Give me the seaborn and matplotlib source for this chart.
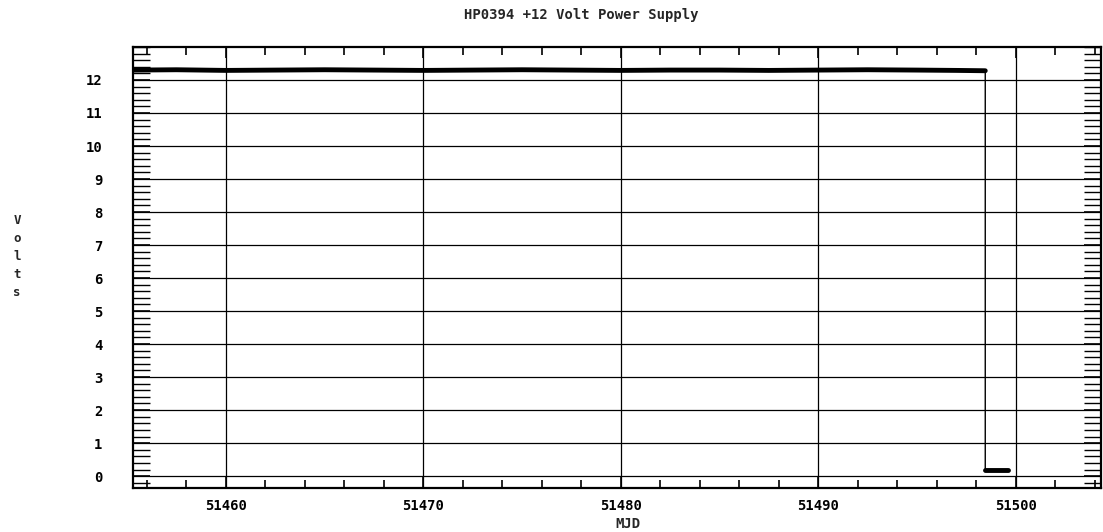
import numpy as np
import seaborn as sns
import matplotlib.pyplot as plt
from matplotlib.ticker import MultipleLocator
import pandas as pd

# readings taken off the chart
high_mjd = [51455.3, 51457.5, 51460.0, 51462.5, 51465.0, 51467.5, 51470.0, 51472.5,
            51475.0, 51477.5, 51480.0, 51482.5, 51485.0, 51487.5, 51490.0, 51492.5,
            51495.0, 51497.0, 51498.45]
high_volts = [12.30, 12.31, 12.29, 12.30, 12.31, 12.30, 12.29, 12.30,
              12.31, 12.30, 12.29, 12.30, 12.30, 12.29, 12.30, 12.31,
              12.30, 12.29, 12.28]
low_mjd = [51498.45, 51499.6]
low_volts = [0.2, 0.2]

x_ticks = [51460, 51470, 51480, 51490, 51500]
y_ticks = list(range(0, 13))

title = 'HP0394 +12 Volt Power Supply'
ylabel = 'Volts'
xlabel = 'MJD'

sns.set_style('white')
plt.rcParams['font.family'] = ['DejaVu Sans Mono', 'DejaVu Sans']
plt.rcParams['font.weight'] = 'bold'

df = pd.DataFrame({'mjd': high_mjd + low_mjd, 'volts': high_volts + low_volts})

fig = plt.figure(figsize=(11.03, 5.32), dpi=100)
ax = fig.add_axes([0.1206, 0.0827, 0.8774, 0.829])

# thin trace through the whole series (shows the drop)
sns.lineplot(data=df, x='mjd', y='volts', color='black', lw=1.0, ax=ax,
             sort=False, estimator=None)
# thick bands where the samples pile up
sns.lineplot(x=high_mjd, y=high_volts, color='black', lw=3.5, ax=ax, estimator=None)
sns.lineplot(x=low_mjd, y=low_volts, color='black', lw=3.5, ax=ax, estimator=None)

ax.set_xlim(51455.3, 51504.3)
ax.set_ylim(-0.36, 13.0)
ax.set_xticks(x_ticks)
ax.set_yticks(y_ticks)
ax.xaxis.set_minor_locator(MultipleLocator(2))
ax.yaxis.set_minor_locator(MultipleLocator(0.2))

ax.grid(True, which='major', color='black', lw=0.9)
ax.tick_params(which='both', direction='in', top=True, right=True, bottom=True,
               left=True, colors='black', labelsize=10)
ax.tick_params(axis='x', which='major', length=8, width=1.2, pad=8)
ax.tick_params(axis='x', which='minor', length=6, width=1.2)
ax.tick_params(axis='y', which='major', length=12, width=1.2, pad=22)
ax.tick_params(axis='y', which='minor', length=12, width=1.0)
for lab in ax.get_xticklabels() + ax.get_yticklabels():
    lab.set_fontweight('bold')
for s in ax.spines.values():
    s.set_visible(True)
    s.set_color('black')
    s.set_linewidth(1.6)

ax.set_xlabel('')
ax.set_ylabel('')

fig.text(581 / 1103, 1 - 15 / 532, title, ha='center', va='center',
         fontsize=10, fontweight='bold')
fig.text(17 / 1103, 1 - 256 / 532, '\n'.join(ylabel), ha='center', va='center',
         fontsize=9, fontweight='bold', linespacing=1.5)
fig.text(628 / 1103, 1 - 524 / 532, xlabel, ha='center', va='center',
         fontsize=10, fontweight='bold')

fig.savefig('out.png', dpi=100)
